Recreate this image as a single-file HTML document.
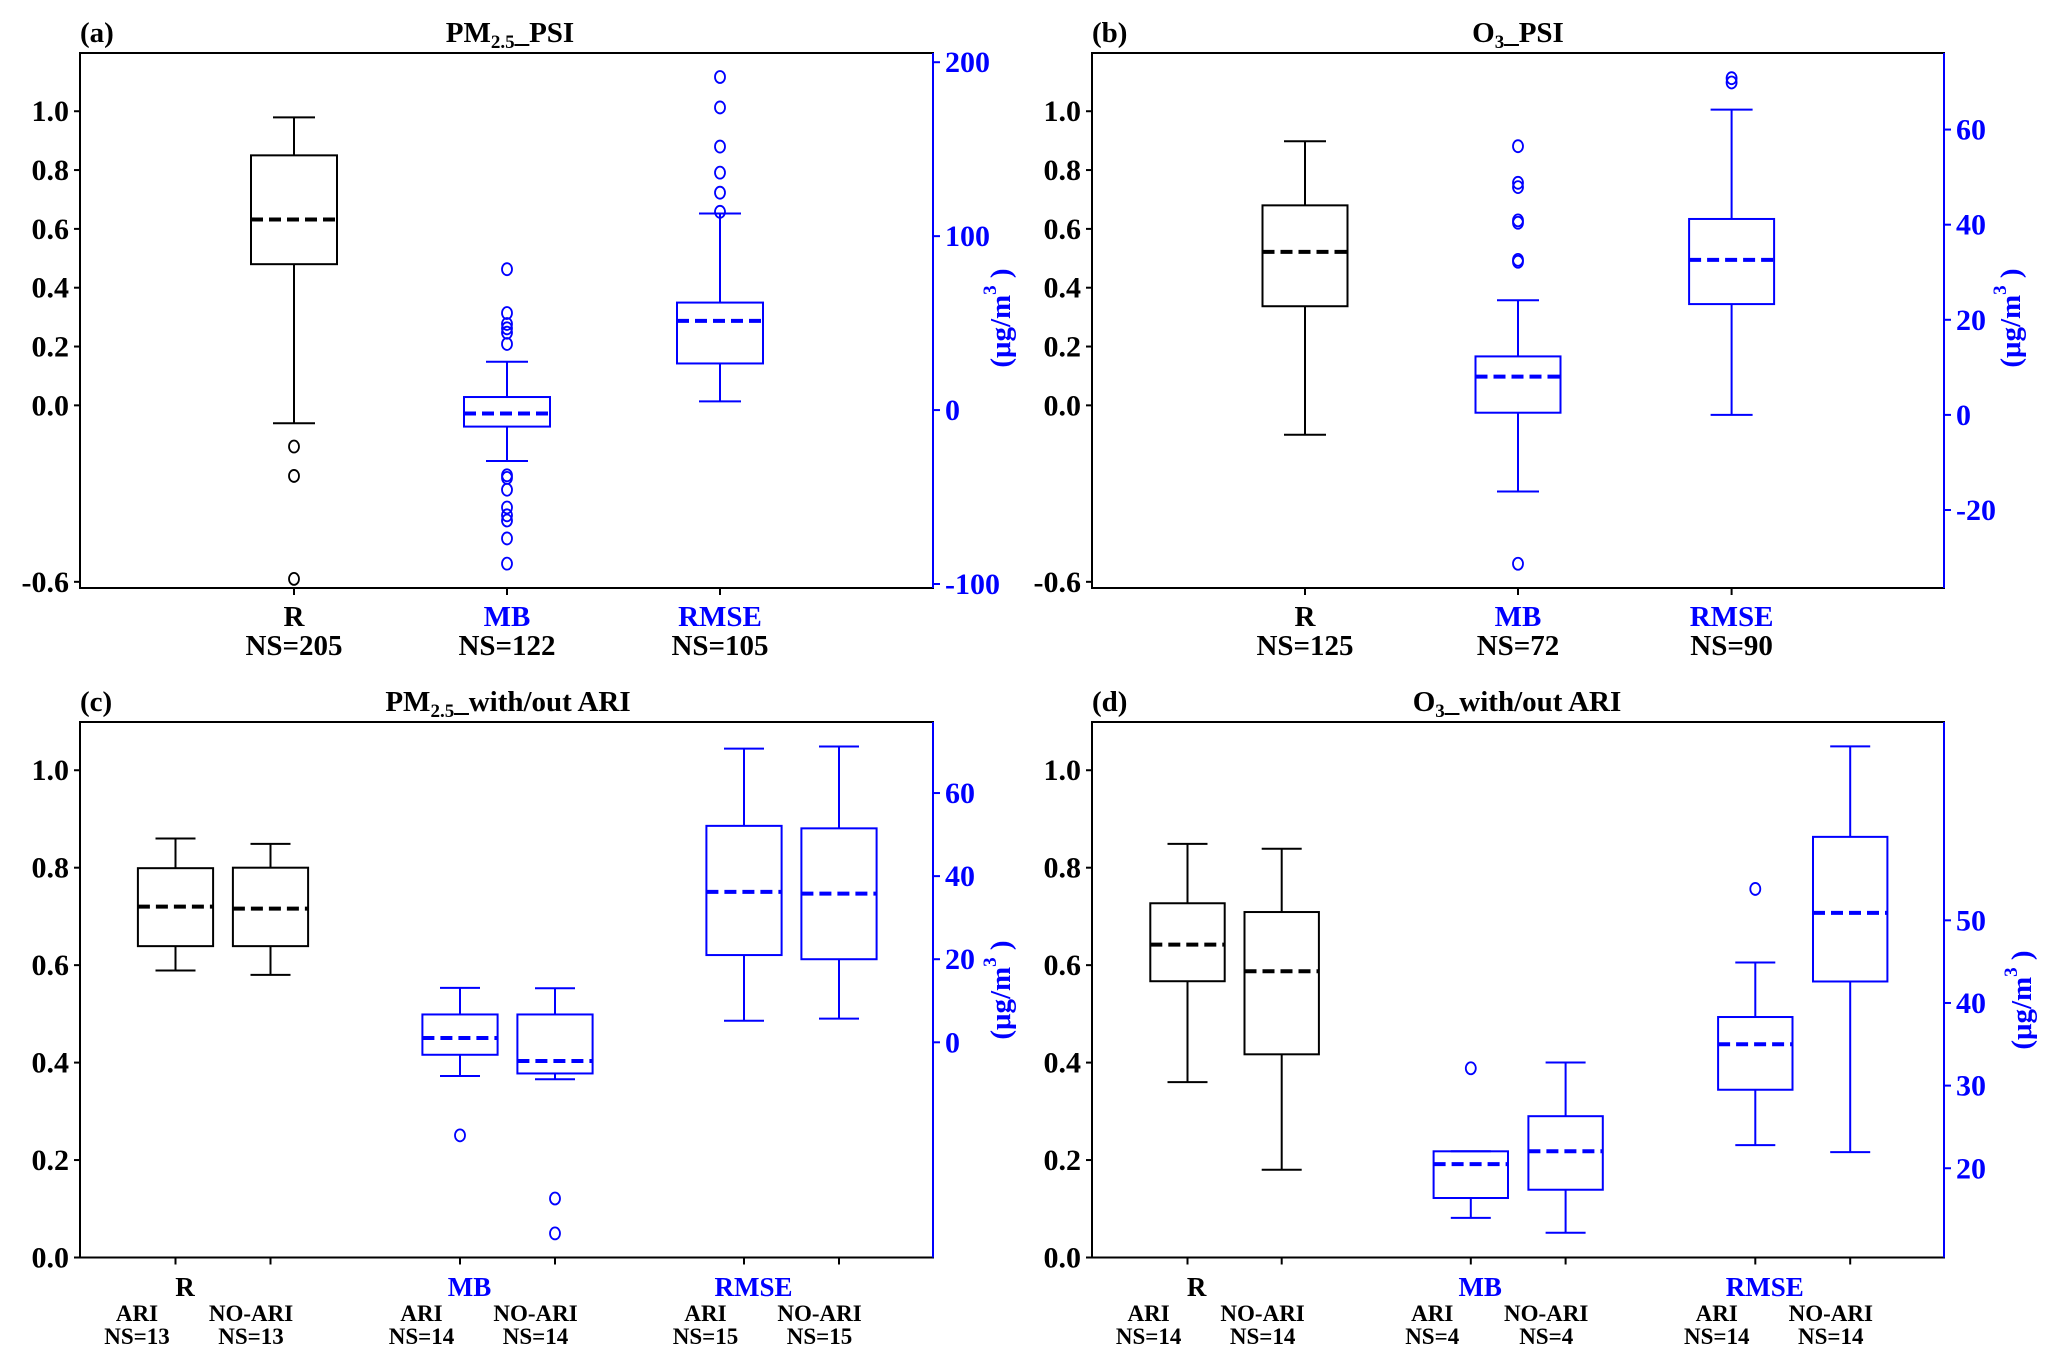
<!DOCTYPE html>
<html><head><meta charset="utf-8"><style>
html,body{margin:0;padding:0;background:#fff}
svg{display:block}
text{font-family:"Liberation Serif","DejaVu Serif",serif;font-weight:bold}
</style></head>
<body>
<svg id="fig" width="2067" height="1364" viewBox="0 0 2067 1364" xmlns="http://www.w3.org/2000/svg" font-family="Liberation Serif, DejaVu Serif, serif" font-weight="bold"></svg>
<script>
// ---------- data (box stats: [whisLo, q1, median, q3, whisHi]) ----------
const aCats = ["R","MB","RMSE"];
const aNS = ["NS=205","NS=122","NS=105"];
const aR = [-0.061, 0.48, 0.632, 0.85, 0.979];
const aROut = [-0.14, -0.24, -0.59];
const aMB = [-29.3, -9.5, -2.0, 7.5, 27.8];
const aMBOut = [81, 55.8, 49.5, 47, 44.5, 38, -37.5, -39, -45.8, -56, -60.5, -63.5, -73.8, -88.3];
const aRMSE = [5, 26.8, 51.3, 61.8, 113];
const aRMSEOut = [191.5, 174, 151.5, 136.5, 125, 114];
const aLeftTicks = [1.0, 0.8, 0.6, 0.4, 0.2, 0.0, -0.6];
const aRightTicks = [-100, 0, 100, 200];
const bNS = ["NS=125","NS=72","NS=90"];
const bR = [-0.10, 0.337, 0.522, 0.680, 0.898];
const bROut = [];
const bMB = [-16.1, 0.46, 8.05, 12.3, 24.1];
const bMBOut = [56.5, 48.8, 47.9, 40.9, 40.4, 32.6, 32.2, -31.3];
const bRMSE = [0, 23.3, 32.6, 41.2, 64.2];
const bRMSEOut = [70.8, 69.9];
const bRightTicks = [-20, 0, 20, 40, 60];
const cNS = [["NS=13","NS=13"],["NS=14","NS=14"],["NS=15","NS=15"]];
const cRAri = [0.589, 0.639, 0.72, 0.799, 0.86];
const cRNo = [0.58, 0.639, 0.716, 0.80, 0.849];
const cMBAri = [-8.1, -3.0, 1.05, 6.7, 13.1];
const cMBAriOut = [-22.4];
const cMBNo = [-8.9, -7.5, -4.5, 6.7, 13.0];
const cMBNoOut = [-37.6, -46];
const cRMSEAri = [5.2, 21.0, 36.2, 52.1, 70.7];
const cRMSENo = [5.7, 20.0, 35.8, 51.5, 71.2];
const cLeftTicks = [0.0, 0.2, 0.4, 0.6, 0.8, 1.0];
const cRightTicks = [0, 20, 40, 60];
const dNS = [["NS=14","NS=14"],["NS=4","NS=4"],["NS=14","NS=14"]];
const dRAri = [0.36, 0.567, 0.642, 0.727, 0.849];
const dRNo = [0.18, 0.417, 0.5875, 0.709, 0.839];
const dMBAri = [14.0, 16.4, 20.5, 22.05, 22.05];
const dMBAriOut = [32.1];
const dMBNo = [12.2, 17.4, 22.05, 26.3, 32.8];
const dRMSEAri = [22.8, 29.5, 35.0, 38.3, 44.9];
const dRMSEAriOut = [53.8];
const dRMSENo = [21.95, 42.6, 50.9, 60.1, 71.05];
const dRightTicks = [20, 30, 40, 50];

const NS_ = "http://www.w3.org/2000/svg";
const svg = document.getElementById('fig');
const BLUE = "#0000ff";
const FONT = '"Liberation Serif", "DejaVu Serif", serif';
function mk(tag, attrs, parent){
  const e = document.createElementNS(NS_, tag);
  for (const k in attrs) e.setAttribute(k, attrs[k]);
  (parent||svg).appendChild(e);
  return e;
}
function txt(str, x, y, size, color, anchor, parent){
  const t = mk('text', {x:x, y:y, 'font-size':size, fill:color, 'text-anchor':anchor||'middle', 'font-family':FONT, 'font-weight':'bold'}, parent);
  t.textContent = str;
  return t;
}
function scale(v0, v1, p0, p1){ return v => p0 + (v - v0) / (v1 - v0) * (p1 - p0); }

function drawBox(g, x, stats, outs, sy, color, hw, cw){
  const [lo, q1, md, q3, hi] = stats;
  const box = mk('g', {}, g);
  
  
  mk('line', {x1:x, x2:x, y1:sy(q3), y2:sy(hi), stroke:color, 'stroke-width':2}, box);
  mk('line', {x1:x, x2:x, y1:sy(q1), y2:sy(lo), stroke:color, 'stroke-width':2}, box);
  mk('line', {x1:x-cw, x2:x+cw, y1:sy(hi), y2:sy(hi), stroke:color, 'stroke-width':2}, box);
  mk('line', {x1:x-cw, x2:x+cw, y1:sy(lo), y2:sy(lo), stroke:color, 'stroke-width':2}, box);
  mk('rect', {x:x-hw, y:sy(q3), width:2*hw, height:sy(q1)-sy(q3), fill:'none', stroke:color, 'stroke-width':2}, box);
  mk('line', {x1:x-hw, x2:x+hw, y1:sy(md), y2:sy(md), stroke:color, 'stroke-width':4, 'stroke-dasharray':'12,6'}, box);
  (outs||[]).forEach(v=>{
    const o = mk('ellipse', {cx:x, cy:sy(v), rx:5, ry:6, fill:'none', stroke:color, 'stroke-width':1.8}, box);
    
    
  });
}

function panel(p){
  const g = mk('g', {});
  
  
  const {L, R, T, B} = p;
  const syL = scale(p.lMin, p.lMax, B, T);
  const syR = scale(p.rMin, p.rMax, B, T);
  const fr = mk('rect', {x:L, y:T, width:R-L, height:B-T, fill:'none', stroke:'#000', 'stroke-width':2}, g);
  
  
  const rs = mk('line', {x1:R, x2:R, y1:T, y2:B, stroke:BLUE, 'stroke-width':2}, g);
  
  
  p.lTicks.forEach(v=>{
    const y = syL(v);
    mk('line', {x1:L-6, x2:L, y1:y, y2:y, stroke:'#000', 'stroke-width':2}, g);
    const t = txt(v.toFixed(1), L-11, y+10, 30, '#000', 'end', g);
    
    
  });
  p.rTicks.forEach(v=>{
    const y = syR(v);
    mk('line', {x1:R, x2:R+7, y1:y, y2:y, stroke:BLUE, 'stroke-width':2}, g);
    const t = txt(String(v), R+12, y+10, 30, BLUE, 'start', g);
    
    
  });
  const yl = mk('text', {x:0, y:0, 'font-size':29, fill:BLUE, 'text-anchor':'middle', 'font-family':FONT, 'font-weight':'bold',
    transform:`translate(${p.ylX},${p.ylY}) rotate(-90)`}, g);
  
  
  yl.innerHTML = '(μg/m<tspan dy="-14" font-size="19">3</tspan><tspan dy="14"> )</tspan>';
  const tl = txt('', p.titleX, T-11, 29, '#000', 'middle', g);
  
  
  tl.innerHTML = p.titleHTML;
  const lt = txt(p.letter, L, T-11, 29, '#000', 'start', g);
  
  
  p.boxes.forEach(b=>{
    const sy = b.right ? syR : syL;
    const col = b.right ? BLUE : '#000';
    mk('line', {x1:b.x, x2:b.x, y1:B, y2:B+7, stroke:'#000', 'stroke-width':2}, g);
    drawBox(g, b.x, b.stats, b.outs, sy, col, p.hw, p.cw);
  });
  return g;
}

const aX = [294, 507, 720];
const ga = panel({name:'panel-a-pm25-psi', L:80, R:933, T:53, B:588, lMin:-0.621, lMax:1.198, rMin:-102.3, rMax:205.3,
  lTicks:aLeftTicks, rTicks:aRightTicks, ylX:1010, ylY:318, titleX:510,
  titleHTML:'PM<tspan font-size="19" dy="6">2.5</tspan><tspan dy="-6">_PSI</tspan>', letter:'(a)', hw:43, cw:21,
  boxes:[{x:aX[0],stats:aR,outs:aROut},{x:aX[1],stats:aMB,outs:aMBOut,right:true},{x:aX[2],stats:aRMSE,outs:aRMSEOut,right:true}]});
const bX = [1305, 1518, 1731.6];
const gb = panel({name:'panel-b-o3-psi', L:1092, R:1944, T:53, B:588, lMin:-0.621, lMax:1.198, rMin:-36.4, rMax:76.1,
  lTicks:aLeftTicks, rTicks:bRightTicks, ylX:2020, ylY:318, titleX:1518,
  titleHTML:'O<tspan font-size="19" dy="6">3</tspan><tspan dy="-6">_PSI</tspan>', letter:'(b)', hw:42.5, cw:21,
  boxes:[{x:bX[0],stats:bR,outs:bROut},{x:bX[1],stats:bMB,outs:bMBOut,right:true},{x:bX[2],stats:bRMSE,outs:bRMSEOut,right:true}]});
const cX = [175.5, 270.5, 460, 555, 744, 839];
const gc = panel({name:'panel-c-pm25-ari', L:80, R:933, T:722, B:1257.5, lMin:0, lMax:1.099, rMin:-51.8, rMax:77.1,
  lTicks:cLeftTicks, rTicks:cRightTicks, ylX:1010, ylY:990, titleX:508,
  titleHTML:'PM<tspan font-size="19" dy="6">2.5</tspan><tspan dy="-6">_with/out ARI</tspan>', letter:'(c)', hw:37.6, cw:20,
  boxes:[{x:cX[0],stats:cRAri},{x:cX[1],stats:cRNo},
         {x:cX[2],stats:cMBAri,outs:cMBAriOut,right:true},{x:cX[3],stats:cMBNo,outs:cMBNoOut,right:true},
         {x:cX[4],stats:cRMSEAri,right:true},{x:cX[5],stats:cRMSENo,right:true}]});
const dX = [1187.5, 1281.7, 1470.8, 1565.6, 1755.3, 1850.2];
const gd = panel({name:'panel-d-o3-ari', L:1092, R:1944, T:722, B:1257.5, lMin:0, lMax:1.099, rMin:9.2, rMax:74,
  lTicks:cLeftTicks, rTicks:dRightTicks, ylX:2031, ylY:1000, titleX:1517,
  titleHTML:'O<tspan font-size="19" dy="6">3</tspan><tspan dy="-6">_with/out ARI</tspan>', letter:'(d)', hw:37.2, cw:20,
  boxes:[{x:dX[0],stats:dRAri},{x:dX[1],stats:dRNo},
         {x:dX[2],stats:dMBAri,outs:dMBAriOut,right:true},{x:dX[3],stats:dMBNo,right:true},
         {x:dX[4],stats:dRMSEAri,outs:dRMSEAriOut,right:true},{x:dX[5],stats:dRMSENo,right:true}]});

function topLabels(g, xs, ns){
  xs.forEach((x,i)=>{
    const c = txt(aCats[i], x, 626, 29, i===0?'#000':BLUE, 'middle', g);
    
    
    const n = txt(ns[i], x, 655, 29, '#000', 'middle', g);
    
    
  });
}
topLabels(ga, aX, aNS);
topLabels(gb, bX, bNS);
function botLabels(g, xs, ns){
  for (let i=0;i<3;i++){
    const ctr = (xs[2*i] + xs[2*i+1]) / 2;
    const c = txt(aCats[i], ctr-38, 1296, 27, i===0?'#000':BLUE, 'middle', g);
    
    
    const a1 = txt('ARI', ctr-86, 1321, 23, '#000', 'middle', g);
    
    
    const a2 = txt('NO-ARI', ctr+28, 1321, 23, '#000', 'middle', g);
    
    
    const n1 = txt(ns[i][0], ctr-86, 1344, 23, '#000', 'middle', g);
    
    
    const n2 = txt(ns[i][1], ctr+28, 1344, 23, '#000', 'middle', g);
    
    
  }
}
botLabels(gc, cX, cNS);
botLabels(gd, dX, dNS);
</script>
</body></html>
